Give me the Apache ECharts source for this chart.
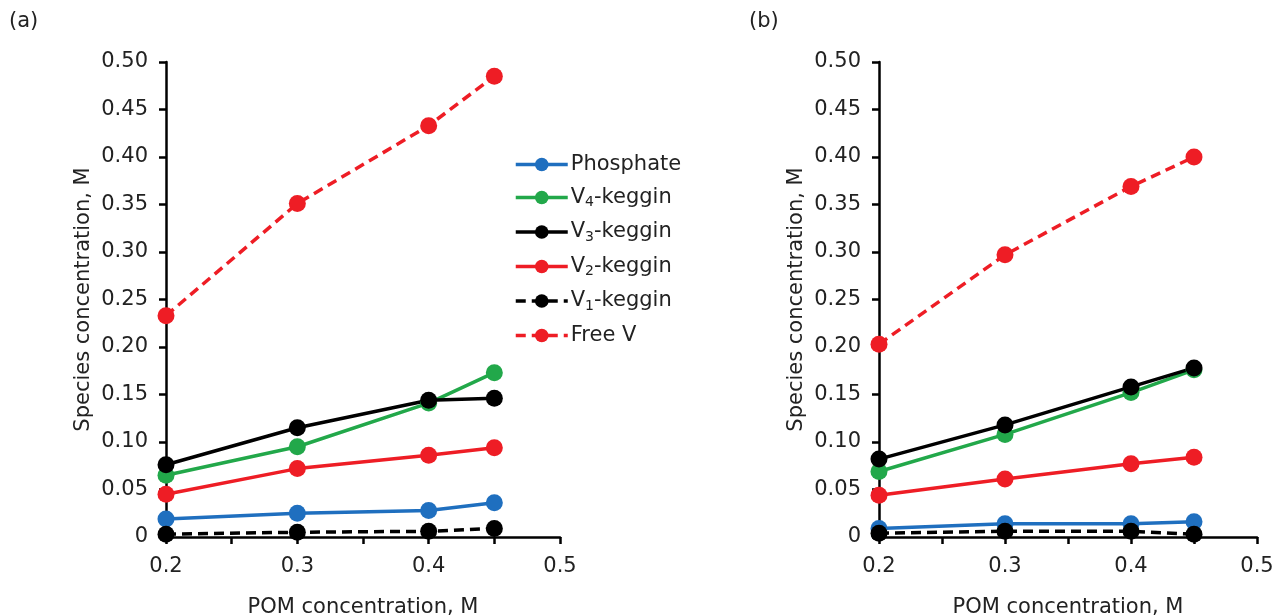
<!DOCTYPE html>
<html>
<head>
<meta charset="utf-8">
<script src="https://cdn.jsdelivr.net/npm/echarts@6/dist/echarts.min.js"></script>
<style>
  html, body { margin: 0; padding: 0; background: #fff; }
  #chart { width: 1279px; height: 616px; }
</style>
</head>
<body>
<div id="chart"></div>
<script>
  // POM concentration, M
  const pom = [0.2, 0.3, 0.4, 0.45]
  const seriesNames = ['Phosphate', 'V4-keggin', 'V3-keggin', 'V2-keggin', 'V1-keggin', 'Free V']

  // panel (a)
  const phosphateA = [0.019, 0.025, 0.028, 0.036]
  const v4A = [0.065, 0.095, 0.141, 0.173]
  const v3A = [0.076, 0.115, 0.144, 0.146]
  const v2A = [0.045, 0.072, 0.086, 0.094]
  const v1A = [0.003, 0.005, 0.006, 0.009]
  const freeVA = [0.233, 0.351, 0.433, 0.485]

  // panel (b)
  const phosphateB = [0.009, 0.014, 0.014, 0.016]
  const v4B = [0.069, 0.108, 0.152, 0.176]
  const v3B = [0.082, 0.118, 0.158, 0.178]
  const v2B = [0.044, 0.061, 0.077, 0.084]
  const v1B = [0.004, 0.006, 0.006, 0.003]
  const freeVB = [0.203, 0.297, 0.369, 0.400]

  const colors = {
    'Phosphate': '#1f6fbf',
    'V4-keggin': '#22a84a',
    'V3-keggin': '#000000',
    'V2-keggin': '#ee1d25',
    'V1-keggin': '#000000',
    'Free V': '#ee1d25'
  }
  const dashed = { 'V1-keggin': true, 'Free V': true }

  const font = 'DejaVu Sans'
  const textColor = '#222'
  const fs = 21

  function pairs (ys) {
    return pom.map((x, i) => [x, ys[i]])
  }

  function makeSeries (name, ys, idx) {
    return {
      name: name,
      type: 'line',
      xAxisIndex: idx,
      yAxisIndex: idx,
      data: pairs(ys),
      symbol: 'circle',
      symbolSize: 17,
      color: colors[name],
      lineStyle: { width: 3.5, type: dashed[name] ? [10, 6] : 'solid' },
      itemStyle: { color: colors[name] },
      emphasis: { disabled: true },
      animation: false
    }
  }

  function xAxis (idx) {
    return {
      gridIndex: idx,
      type: 'value',
      min: 0.2,
      max: 0.5,
      interval: 0.05,
      name: 'POM concentration, M',
      nameLocation: 'middle',
      nameGap: 60,
      nameTextStyle: { fontFamily: font, fontSize: fs, color: textColor },
      axisLine: { show: true, lineStyle: { color: '#000', width: 2.5 } },
      axisTick: { show: true, length: 7, lineStyle: { color: '#000', width: 2.5 } },
      splitLine: { show: false },
      axisLabel: {
        margin: 19,
        fontFamily: font,
        fontSize: fs,
        color: textColor,
        formatter: function (v) {
          const t = v * 10
          return Math.abs(t - Math.round(t)) < 1e-6 ? v.toFixed(1) : ''
        }
      }
    }
  }

  function yAxis (idx) {
    return {
      gridIndex: idx,
      type: 'value',
      min: 0,
      max: 0.5,
      interval: 0.05,
      name: 'Species concentration, M',
      nameLocation: 'middle',
      nameGap: 72,
      nameTextStyle: { fontFamily: font, fontSize: fs, color: textColor },
      axisLine: { show: true, lineStyle: { color: '#000', width: 2.5 } },
      axisTick: { show: true, length: 7, lineStyle: { color: '#000', width: 2.5 } },
      splitLine: { show: false },
      axisLabel: {
        margin: 18,
        fontFamily: font,
        fontSize: fs,
        color: textColor,
        formatter: function (v) {
          return v === 0 ? '0' : v.toFixed(2)
        }
      }
    }
  }

  const dataA = [phosphateA, v4A, v3A, v2A, v1A, freeVA]
  const dataB = [phosphateB, v4B, v3B, v2B, v1B, freeVB]
  const series = []
  seriesNames.forEach((n, i) => series.push(makeSeries(n, dataA[i], 0)))
  seriesNames.forEach((n, i) => series.push(makeSeries(n, dataB[i], 1)))

  let myChart = echarts.init(document.getElementById('chart'))
  myChart.setOption({
    animation: false,
    grid: [
      { left: 166, top: 62, width: 394, height: 475, outerBoundsMode: 'none', containLabel: false },
      { left: 879, top: 62, width: 378, height: 475, outerBoundsMode: 'none', containLabel: false }
    ],
    xAxis: [xAxis(0), xAxis(1)],
    yAxis: [yAxis(0), yAxis(1)],
    legend: {
      data: seriesNames,
      orient: 'vertical',
      left: 509,
      top: 149,
      itemWidth: 52,
      itemHeight: 17,
      itemGap: 12,
      selectedMode: false,
      lineStyle: { width: 3.5 },
      textStyle: {
        fontFamily: font,
        fontSize: fs,
        color: textColor,
        padding: [0, 0, 0, -2],
        rich: {
          sub: { fontFamily: font, fontSize: 14, color: textColor, verticalAlign: 'bottom', padding: [10, 0, 0, 0] }
        }
      },
      formatter: function (name) {
        const m = name.match(/^V(\d)-keggin$/)
        return m ? 'V{sub|' + m[1] + '}-keggin' : name
      }
    },
    graphic: [
      { type: 'text', left: 9, top: 11, style: { text: '(a)', font: '21px DejaVu Sans', fill: textColor } },
      { type: 'text', left: 749, top: 11, style: { text: '(b)', font: '21px DejaVu Sans', fill: textColor } }
    ],
    series: series
  })
  window.addEventListener('resize', function () {
    myChart.resize()
  })
</script>
</body>
</html>
